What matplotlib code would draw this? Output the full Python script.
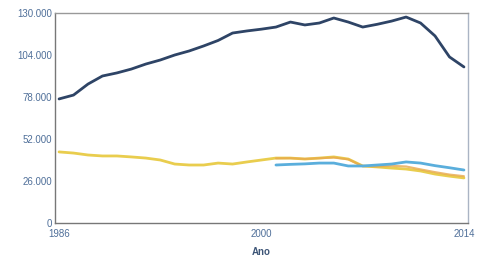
import matplotlib
matplotlib.use("Agg")
import matplotlib.pyplot as plt
from matplotlib.ticker import FuncFormatter

years = list(range(1986, 2015))
navy = [76800, 79200, 86000, 91000, 92900, 95300, 98400, 100900, 104000, 106500,
        109600, 113000, 117600, 118900, 120000, 121300, 124400, 122600, 123800, 126900,
        124400, 121300, 123000, 125000, 127500, 123800, 115800, 102800, 96600]
yellow = [44000, 43300, 42100, 41500, 41500, 40900, 40200, 39000, 36500, 35900,
          35900, 37100, 36500, 37800, 39000, 40200, 40200, 39600, 40200, 40900,
          39600, 35300, 34700, 34000, 33400, 32200, 30300, 29000, 27900]
years_b = list(range(2001, 2015))
blue = [35900, 36300, 36600, 37100, 37100, 35300, 35300, 35900, 36500, 37800,
        37100, 35500, 34200, 32800]
orange = [40000, 40100, 39700, 40100, 40500, 39400, 35200, 35000, 35400, 35000,
          33200, 31500, 30000, 29000]

yticks = [0, 26000, 52000, 78000, 104000, 130000]
xticks = [1986, 2000, 2014]

plt.rcParams['font.family'] = ['Liberation Sans', 'DejaVu Sans']
fig = plt.figure(figsize=(4.78, 2.57), dpi=100)
ax = fig.add_axes([55/478, 34/257, 413/478, 210/257])

ax.plot(years, navy, color='#2e4466', lw=2.0, solid_capstyle='round')
ax.plot(years, yellow, color='#e9cd4e', lw=2.0, solid_capstyle='round')
ax.plot(years_b, orange, color='#e8a84c', lw=1.5, alpha=0.8, solid_capstyle='round')
ax.plot(years_b, blue, color='#5aaedc', lw=2.0, solid_capstyle='round')

ax.set_xlim(1985.72, 2014.28)
ax.set_ylim(0, 130000)
ax.set_yticks(yticks)
ax.set_xticks(xticks)
ax.yaxis.set_major_formatter(FuncFormatter(lambda v, p: '0' if v == 0 else f'{int(v):,}'.replace(',', '.')))
ax.tick_params(axis='y', length=0, labelsize=7, colors='#4f6f99', pad=2)
ax.tick_params(axis='x', length=0, labelsize=7, colors='#4f6f99', pad=4)
ax.set_xlabel('Ano', fontsize=7, color='#3d5577', fontweight='bold', labelpad=6)

ax.spines['left'].set_color('#777777')
ax.spines['bottom'].set_color('#777777')
ax.spines['top'].set_color('#999999')
ax.spines['right'].set_color('#aab4c4')
for s in ax.spines.values():
    s.set_linewidth(1.0)

fig.savefig('out.png', dpi=100)
